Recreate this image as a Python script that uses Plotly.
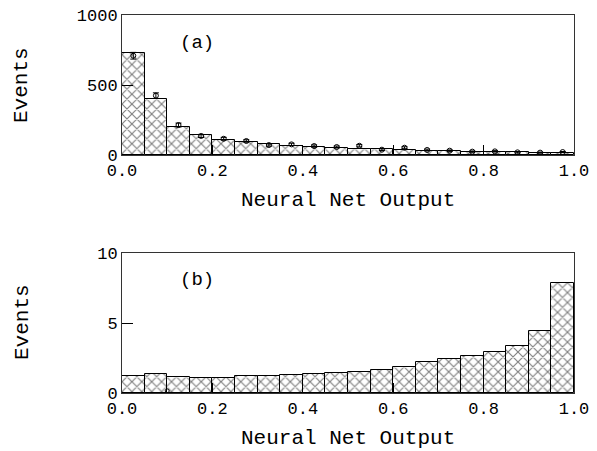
import plotly.graph_objects as go

bin_centers = [0.025 + 0.05 * i for i in range(20)]
hist_a = [731, 398, 198, 143, 107, 90, 76, 66, 57, 50, 44, 40, 35, 31, 28, 25, 22, 19, 17, 15]
data_a = [709, 424, 214, 136, 116, 100, 71, 76, 64, 57, 66, 38, 52, 36, 31, 24, 26, 19, 17, 21]
err_a = [24, 20, 14, 11, 10, 9, 8, 8, 8, 7, 8, 6, 7, 6, 5, 5, 5, 4, 4, 4]
hist_b = [1.24, 1.36, 1.12, 1.06, 1.10, 1.18, 1.24, 1.29, 1.36, 1.42, 1.48, 1.64, 1.88, 2.21, 2.40, 2.62, 2.90, 3.38, 4.40, 7.86]
point_b_x = [0.1]
point_b_y = [0.15]

FONT = "Liberation Mono"
AX = "#333"
OFF = 8  # default page body margin
W, H = 597 - OFF, 451 - OFF
L, R, T, B = 122 - OFF, W - (574 - OFF), 15 - OFF, H - (393 - OFF)
PH = H - T - B
PW = W - L - R

fig = go.Figure()
pattern = dict(shape="x", fgcolor="black", bgcolor="white", size=7, solidity=0.3)

fig.add_trace(go.Bar(x=bin_centers, y=hist_a, width=0.05, xaxis="x", yaxis="y",
                     marker=dict(color="white", pattern=pattern, line=dict(color="black", width=1)),
                     showlegend=False))
fig.add_trace(go.Scatter(x=bin_centers, y=data_a, mode="markers", xaxis="x", yaxis="y",
                         marker=dict(symbol="circle-open", size=5, color="black", line=dict(width=1)),
                         error_y=dict(type="data", array=err_a, color="black", thickness=1, width=3),
                         showlegend=False))
fig.add_trace(go.Bar(x=bin_centers, y=hist_b, width=0.05, xaxis="x2", yaxis="y2",
                     marker=dict(color="white", pattern=pattern, line=dict(color="black", width=1)),
                     showlegend=False))
fig.add_trace(go.Scatter(x=point_b_x, y=point_b_y, mode="markers", xaxis="x2", yaxis="y2",
                         marker=dict(symbol="circle-open", size=4, color="black", line=dict(width=1)),
                         showlegend=False))

xcommon = dict(range=[0, 1], tickvals=[0, 0.2, 0.4, 0.6, 0.8, 1.0],
               ticktext=["0.0", "0.2", "0.4", "0.6", "0.8", "1.0"],
               ticks="inside", ticklen=10, tickcolor="black", showline=True, mirror=True,
               linecolor=AX, linewidth=1, showgrid=False, zeroline=False, automargin=False,
               ticklabeloverflow="allow",
               tickfont=dict(family=FONT, size=17, color="black"))
ycommon = dict(ticks="inside", ticklen=11, tickcolor="black", showline=True, mirror=True,
               linecolor=AX, linewidth=1, showgrid=False, zeroline=False, automargin=False,
               ticklabeloverflow="allow",
               tickfont=dict(family=FONT, size=17, color="black"))

def ypaper(ref_px):
    return 1 - (ref_px - OFF - T) / PH

def xpaper(ref_px):
    return (ref_px - OFF - L) / PW

xtitle = dict(family=FONT, size=21, color="black")

fig.update_layout(
    width=W, height=H,
    margin=dict(l=L, r=R, t=T, b=B),
    paper_bgcolor="white", plot_bgcolor="white",
    bargap=0,
    xaxis=dict(domain=[0, 1], anchor="y", **xcommon),
    yaxis=dict(domain=[ypaper(155), ypaper(15)], anchor="x", range=[0, 1000],
               tickvals=[0, 500, 1000], **ycommon),
    xaxis2=dict(domain=[0, 1], anchor="y2", **xcommon),
    yaxis2=dict(domain=[ypaper(393), ypaper(253)], anchor="x2", range=[0, 10],
                tickvals=[0, 5, 10], **ycommon),
    annotations=[
        dict(text="(a)", x=0.166, y=800, xref="x", yref="y", showarrow=False,
             font=dict(family=FONT, size=19, color="black")),
        dict(text="(b)", x=0.166, y=8.1, xref="x2", yref="y2", showarrow=False,
             font=dict(family=FONT, size=19, color="black")),
        dict(text="Neural Net Output", x=0.5, xref="paper", y=ypaper(200), yref="paper",
             yanchor="middle", showarrow=False, font=xtitle),
        dict(text="Neural Net Output", x=0.5, xref="paper", y=ypaper(438), yref="paper",
             yanchor="middle", showarrow=False, font=xtitle),
        dict(text="Events", x=xpaper(22), xref="paper", y=ypaper(85), yref="paper",
             textangle=-90, xanchor="center", yanchor="middle", showarrow=False, font=xtitle),
        dict(text="Events", x=xpaper(22), xref="paper", y=ypaper(322), yref="paper",
             textangle=-90, xanchor="center", yanchor="middle", showarrow=False, font=xtitle),
    ],
)

fig.write_html("out.html")
